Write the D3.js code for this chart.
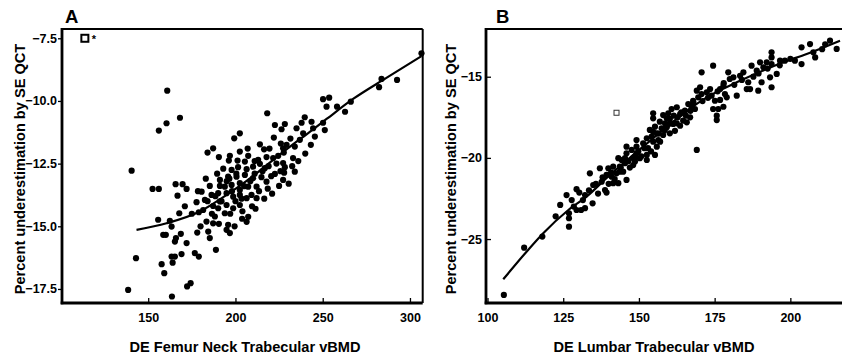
<!DOCTYPE html>
<html>
<head>
<meta charset="utf-8">
<script src="https://cdn.jsdelivr.net/npm/d3@7"></script>
<style>
  html, body { margin: 0; padding: 0; background: #fff; }
  svg { display: block; font-family: "Liberation Sans", Arial, sans-serif; font-weight: bold; }
</style>
</head>
<body>
<svg id="chart" width="842" height="360"></svg>
<script>
// Panel A: DE femur neck trabecular vBMD vs percent underestimation
const femurPts = [
  [160.9,-9.59],[156.1,-11.18],[160.5,-10.89],[168.2,-10.67],[140.5,-12.78],[218.2,-10.49],
  [222.6,-10.96],[228.3,-10.92],[226.4,-11.13],[222.0,-11.46],[202.5,-11.29],[199.3,-11.49],
  [214.0,-11.73],[216.4,-11.93],[227.3,-11.89],[229.3,-11.75],[184.0,-12.06],[187.2,-11.89],
  [190.5,-12.24],[196.8,-12.19],[202.5,-12.02],[207.3,-12.19],[196.2,-12.38],[201.2,-12.38],
  [205.4,-12.42],[213.0,-12.35],[217.8,-12.24],[221.6,-12.28],[224.5,-12.19],[227.7,-12.06],
  [227.3,-12.48],[228.3,-12.64],[227.9,-12.86],[216.8,-12.68],[214.0,-12.51],[210.1,-12.62],
  [206.4,-12.72],[201.5,-12.64],[197.8,-12.75],[222.6,-12.91],
  [306.6,-8.10],[283.7,-9.12],[292.6,-9.16],[282.3,-9.45],[266.1,-10.03],[262.8,-10.43],
  [258.2,-10.23],[250.2,-9.93],[253.7,-9.87],[252.2,-10.23],[251.2,-11.16],[250.2,-10.87],
  [243.6,-10.83],[239.7,-10.65],[237.9,-10.87],[244.5,-11.09],[245.5,-11.42],[243.2,-11.75],
  [238.8,-11.29],[235.0,-11.09],[236.9,-11.55],[234.0,-11.82],[233.0,-12.28],[234.0,-12.82],
  [152.5,-13.51],[156.1,-13.51],[165.7,-13.32],[169.7,-13.32],[172.0,-13.51],[166.8,-13.78],
  [177.7,-14.04],[167.8,-14.48],[179.0,-14.44],[155.7,-14.74],[162.4,-14.78],[163.4,-15.01],
  [158.6,-15.34],[160.1,-15.34],[165.9,-15.47],[168.7,-15.30],[165.3,-15.61],[172.0,-15.67],
  [178.1,-15.25],[143.0,-16.27],[157.7,-16.51],[163.4,-16.21],[165.3,-16.21],[169.1,-16.11],
  [176.7,-16.07],[179.0,-16.21],[159.2,-16.87],[164.0,-16.45],[172.3,-17.40],[174.3,-17.27],
  [138.5,-17.54],[163.6,-17.80],
  [225.0,-13.39],[227.3,-13.15],[217.8,-13.22],[214.9,-13.04],[212.1,-13.42],[210.1,-13.08],
  [207.3,-13.42],[205.4,-12.95],[202.5,-13.28],[200.6,-13.02],[197.8,-13.35],[195.8,-13.02],
  [193.9,-13.42],[191.1,-13.39],[185.3,-13.39],[186.3,-13.75],[190.1,-13.68],[194.9,-13.68],
  [198.7,-13.82],[202.5,-13.75],[206.4,-13.88],[212.1,-13.88],[191.1,-14.01],[187.2,-14.19],
  [202.5,-14.15],[194.9,-14.15],[198.7,-14.28],[190.1,-14.28],[209.2,-13.75],[202.5,-13.55],
  [191.1,-13.15],[188.2,-14.61],[183.4,-14.81],[187.2,-14.88],[193.9,-14.48],[207.3,-14.62],
  [206.4,-14.82],[195.8,-14.94],[194.9,-15.14],[196.8,-15.27],[184.4,-15.21],[185.3,-15.47],
  [188.8,-15.94],[181.5,-14.35],[182.5,-13.95],[180.6,-13.62],
  [189.5,-12.90],[193.0,-12.70],[195.0,-13.20],[198.0,-13.60],[200.0,-14.00],[203.5,-13.90],
  [205.0,-13.40],[208.5,-13.20],[211.0,-12.90],[213.5,-13.60],[215.5,-12.80],[219.0,-12.60],
  [220.5,-13.00],[223.5,-12.50],[225.8,-12.80],[218.5,-13.50],[209.5,-14.20],[204.0,-14.40],
  [197.0,-14.50],[192.0,-14.00],[188.5,-13.80],[184.0,-14.00],[186.5,-14.50],[190.5,-14.90],
  [199.5,-15.00],[203.8,-14.70],[211.5,-14.30],[216.5,-13.90],[221.0,-13.70],[230.5,-13.30],
  [232.5,-12.60],[236.0,-12.40],[240.0,-12.10],[231.5,-11.50],[226.0,-11.70],[219.5,-11.90],
  [211.0,-12.40],[207.0,-11.90],[200.5,-12.90],[196.5,-13.10],[183.0,-13.10],[178.5,-13.60],
  [175.0,-14.50],[171.0,-14.20],[180.0,-15.00]
];
const femurFit = [
  [143.3,-15.14],[160.5,-14.88],[179.6,-14.41],[194.9,-13.75],[206.4,-13.19],[221.6,-12.35],
  [231.1,-11.83],[242.6,-11.23],[252.2,-10.72],[267.4,-9.92],[286.5,-9.08],[306.6,-8.21]
];
const femurOutlier = [113.7, -7.5];
const femurXTicks = [150, 200, 250, 300];
const femurYTicks = [-7.5, -10.0, -12.5, -15.0, -17.5];

// Panel B: DE lumbar trabecular vBMD vs percent underestimation
const lumbarPts = [
  [105.4,-28.44],[112.1,-25.53],[118.1,-24.85],[126.1,-22.29],[126.9,-23.41],[126.9,-23.72],
  [126.9,-24.24],[129.4,-21.93],[130.3,-22.14],[132.2,-22.29],[129.4,-23.21],[130.9,-23.21],
  [132.2,-23.10],[134.7,-22.80],[134.9,-21.67],[133.8,-20.95],[137.7,-21.47],[138.8,-21.98],
  [139.3,-22.14],[141.5,-21.56],[143.2,-21.56],[145.9,-21.36],[141.0,-21.16],[142.6,-20.95],
  [143.7,-20.85],[137.1,-20.64],[139.3,-21.05],[139.9,-20.64],[141.5,-20.54],[143.7,-20.54],
  [143.2,-20.02],[144.3,-20.13],[145.4,-20.02],[145.4,-20.33],[145.9,-19.72],[148.1,-20.02],
  [149.2,-19.72],[149.2,-19.31],[147.6,-19.51],[150.3,-20.02],[152.6,-19.82],[152.6,-20.13],
  [148.7,-20.23],[151.4,-19.10],[154.7,-19.00],[155.9,-19.31],[155.3,-19.82],[152.6,-18.79],
  [154.2,-18.69],[156.4,-18.90],[155.9,-18.49],[154.7,-18.39],[153.6,-18.28],[158.0,-18.59],
  [157.5,-18.18],[155.3,-18.08],[156.9,-17.77],[158.6,-17.87],[159.2,-17.56],[158.0,-17.36],
  [159.7,-17.25],[154.7,-17.25],[154.7,-17.56],[145.9,-19.31],[149.2,-18.90],[160.2,-18.49],
  [148.7,-19.93],[148.1,-20.44],[144.8,-20.85],[160.8,-16.99],[162.5,-16.88],[160.2,-17.60],
  [161.3,-17.91],[159.2,-18.12],[161.9,-18.33],[163.6,-18.02],[164.6,-17.71],[163.6,-17.30],
  [165.2,-17.09],[166.3,-16.68],[167.4,-16.88],[167.9,-16.48],[169.6,-16.27],[169.1,-15.86],
  [170.2,-15.65],[170.7,-14.73],[174.5,-14.32],[168.5,-16.99],[166.9,-17.50],[165.8,-17.81],
  [170.7,-16.07],[172.4,-15.96],[173.5,-15.76],[174.0,-16.17],[175.1,-16.48],[174.5,-16.99],
  [175.7,-17.40],[176.2,-16.99],[176.8,-15.76],[177.9,-15.55],[178.4,-16.07],[179.0,-16.27],
  [179.5,-14.73],[180.0,-15.14],[182.3,-16.17],[181.2,-15.04],[183.4,-14.94],[184.5,-14.73],
  [186.1,-15.34],[185.6,-15.76],[186.7,-15.76],[187.2,-14.32],[188.9,-14.63],[189.4,-15.86],
  [190.5,-15.34],[190.0,-14.11],[191.1,-14.42],[193.8,-13.50],[193.8,-13.81],[192.2,-14.11],
  [193.8,-14.22],[193.3,-15.04],[193.8,-15.65],[195.5,-14.83],[196.6,-14.01],[198.2,-14.01],
  [203.7,-13.19],[203.7,-14.22],[206.5,-12.99],[207.6,-13.50],[208.2,-13.81],[213.1,-12.78],
  [215.3,-13.29],[201.5,-14.01],[169.1,-19.51],[162.5,-17.87],[175.7,-17.67],[177.9,-16.85],
  [176.8,-16.43],
  [122.5,-23.60],[124.0,-22.90],[127.8,-22.60],[128.5,-23.00],[131.5,-22.60],[133.5,-22.00],
  [135.8,-21.60],[136.5,-22.20],[138.0,-21.20],[140.0,-21.60],[140.8,-20.90],[142.0,-21.30],
  [144.0,-20.60],[146.5,-20.20],[147.0,-20.60],[149.8,-19.60],[150.8,-19.90],[151.8,-19.40],
  [153.0,-19.40],[154.0,-19.60],[156.5,-18.50],[157.0,-19.00],[158.5,-18.30],[160.0,-17.90],
  [161.5,-17.40],[162.8,-17.50],[164.0,-17.20],[165.5,-17.40],[167.0,-17.10],[168.0,-16.60],
  [171.0,-16.50],[172.8,-16.30],[176.0,-15.90],[178.0,-15.40],[181.5,-15.50],[184.0,-15.20],
  [187.8,-15.00],[189.5,-14.80],[192.5,-14.50],[196.5,-14.30],[200.0,-13.90],[210.5,-13.30],
  [211.5,-13.00]
];
const lumbarFit = [
  [105.2,-27.48],[113.4,-25.67],[118.4,-24.64],[126.7,-23.21],[132.7,-22.39],[140.4,-21.05],
  [148.1,-19.82],[154.7,-18.79],[159.2,-18.08],[172.4,-16.27],[183.4,-15.25],[197.7,-14.11],
  [205.4,-13.60],[216.4,-12.78]
];
const lumbarOutlier = [142.6, -17.22];
const lumbarXTicks = [100, 125, 150, 175, 200];
const lumbarYTicks = [-15, -20, -25];

const svg = d3.select('#chart');
const plotH = 274;

function drawPanel(cfg) {
  const g = svg.append('g').attr('transform', `translate(${cfg.left},${cfg.top})`);
  const x = d3.scaleLinear().domain(cfg.xDomain).range([0, cfg.width]);
  const y = d3.scaleLinear().domain(cfg.yDomain).range([plotH, 0]);

  // x-Achse (Ticks nach innen)
  const xa = g.append('g').attr('transform', `translate(0,${plotH})`)
    .call(d3.axisBottom(x).tickValues(cfg.xTicks).tickSize(-5).tickPadding(10).tickFormat(d3.format('d')));
  xa.select('.domain').remove();

  const ya = g.append('g')
    .call(d3.axisLeft(y).tickValues(cfg.yTicks).tickSize(cfg.yTickSize).tickPadding(cfg.yPad).tickFormat(cfg.yFmt));
  ya.select('.domain').remove();

  g.selectAll('.tick line').attr('stroke', '#000').attr('stroke-width', 1.3);
  g.selectAll('.tick text')
    .attr('fill', '#000')
    .style('font-family', '"Liberation Sans", Arial, sans-serif')
    .style('font-weight', 'bold')
    .style('font-size', '12.5px');

  // Rahmen
  g.append('line').attr('x1', 0).attr('x2', cfg.width).attr('y1', 0).attr('y2', 0)
    .attr('stroke', '#000').attr('stroke-width', 2.2);
  if (cfg.rightBorder) {
    g.append('line').attr('x1', cfg.width).attr('x2', cfg.width).attr('y1', 0).attr('y2', plotH)
      .attr('stroke', '#000').attr('stroke-width', 2);
  }
  g.append('line').attr('x1', 0).attr('x2', 0).attr('y1', -1).attr('y2', plotH + 1.3)
    .attr('stroke', '#000').attr('stroke-width', 2.8);
  g.append('line').attr('x1', -1.3).attr('x2', cfg.width).attr('y1', plotH).attr('y2', plotH)
    .attr('stroke', '#000').attr('stroke-width', 2.8);

  // Punkte
  g.selectAll('circle.pt')
    .data(cfg.points)
    .enter()
    .append('circle')
    .attr('class', 'pt')
    .attr('cx', d => x(d[0]))
    .attr('cy', d => y(d[1]))
    .attr('r', 3.1)
    .attr('fill', '#000');

  // Glättungskurve
  const line = d3.line().x(d => x(d[0])).y(d => y(d[1])).curve(d3.curveMonotoneX);
  g.append('path')
    .datum(cfg.fit)
    .attr('d', line)
    .attr('fill', 'none')
    .attr('stroke', '#000')
    .attr('stroke-width', 2.2);

  // Ausreißer (offenes Quadrat)
  const s = cfg.outlierSize;
  g.append('rect')
    .attr('x', x(cfg.outlier[0]) - s / 2)
    .attr('y', y(cfg.outlier[1]) - s / 2)
    .attr('width', s).attr('height', s)
    .attr('fill', '#fff')
    .attr('stroke', cfg.outlierStroke)
    .attr('stroke-width', cfg.outlierWidth);
  if (cfg.outlierMark) {
    g.append('text')
      .attr('x', x(cfg.outlier[0]) + 7)
      .attr('y', y(cfg.outlier[1]) + 5)
      .style('font-size', '11px')
      .text(cfg.outlierMark);
  }

  // Panel-Buchstabe
  svg.append('text')
    .attr('x', cfg.letterX).attr('y', 23)
    .style('font-size', '18.5px')
    .text(cfg.letter);

  // Achsentitel
  svg.append('text')
    .attr('x', cfg.xTitleX).attr('y', 352)
    .attr('text-anchor', 'middle')
    .style('font-size', '14.6px')
    .text(cfg.xTitle);
  svg.append('text')
    .attr('transform', `translate(${cfg.yTitleX},${cfg.top + plotH / 2 + 3}) rotate(-90)`)
    .attr('text-anchor', 'middle')
    .style('font-size', '14.6px')
    .text('Percent underestimation by SE QCT');
}

drawPanel({
  left: 62, top: 29, width: 360.7,
  xDomain: [100.6, 307.3], yDomain: [-18.06, -7.13],
  xTicks: femurXTicks, yTicks: femurYTicks,
  yTickSize: 4, yPad: 1, yFmt: d3.format('.1f'),
  points: femurPts, fit: femurFit,
  outlier: femurOutlier, outlierSize: 7, outlierStroke: '#000', outlierWidth: 2, outlierMark: '*',
  rightBorder: true,
  letter: 'A', letterX: 65,
  xTitle: 'DE Femur Neck Trabecular vBMD', xTitleX: 245, yTitleX: 25
});

drawPanel({
  left: 486, top: 29, width: 364,
  xDomain: [99.5, 219.7], yDomain: [-28.94, -12.06],
  xTicks: lumbarXTicks, yTicks: lumbarYTicks,
  yTickSize: -5, yPad: 4, yFmt: d3.format('d'),
  points: lumbarPts, fit: lumbarFit,
  outlier: lumbarOutlier, outlierSize: 5, outlierStroke: '#333', outlierWidth: 1, outlierMark: null,
  rightBorder: false,
  letter: 'B', letterX: 496,
  xTitle: 'DE Lumbar Trabecular vBMD', xTitleX: 654, yTitleX: 456
});
</script>
</body>
</html>
